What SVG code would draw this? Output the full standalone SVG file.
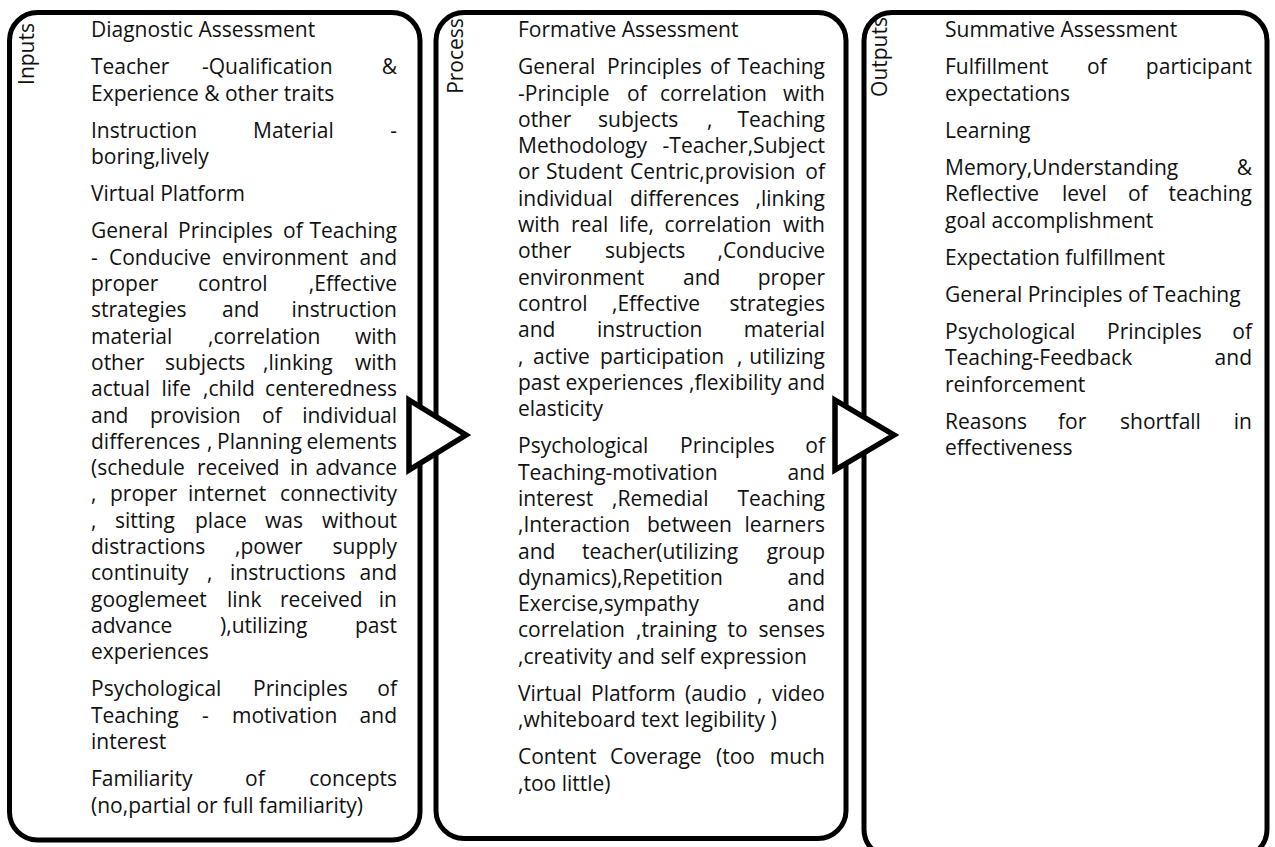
<svg xmlns="http://www.w3.org/2000/svg" width="1275" height="847" viewBox="0 0 1275 847">
<style>
.box{fill:#fff;stroke:#000;stroke-width:5}
.arr{fill:#fff;stroke:#000;stroke-width:5.5;stroke-linejoin:miter}
.t{font-family:"Open Sans","Liberation Sans",sans-serif;font-size:21px;fill:#111}
.e{text-anchor:end}
.lbl{font-family:"Open Sans","Liberation Sans",sans-serif;font-size:21px;fill:#111;text-anchor:middle}
</style>
<rect width="1275" height="847" fill="#fff"/>
<g id="inputs">
<rect class="box" x="9.5" y="12.5" width="410.5" height="827.5" rx="28"/>
<text class="lbl" transform="translate(34,54) rotate(-90)">Inputs</text>
<text class="t" x="91" y="37">Diagnostic Assessment</text>
<text class="t" y="74.2"><tspan x="91">Teacher</tspan><tspan x="202">-Qualification</tspan><tspan class="e" x="397">&amp;</tspan></text>
<text class="t" x="91" y="100.5">Experience &amp; other traits</text>
<text class="t" y="137.7"><tspan x="91">Instruction</tspan><tspan x="253">Material</tspan><tspan class="e" x="397">-</tspan></text>
<text class="t" x="91" y="164">boring,lively</text>
<text class="t" x="91" y="201.2">Virtual Platform</text>
<text class="t" y="238.4"><tspan x="91">General</tspan><tspan x="178">Principles</tspan><tspan x="283">of</tspan><tspan class="e" x="397">Teaching</tspan></text>
<text class="t" y="264.7"><tspan x="91">-</tspan><tspan x="109">Conducive</tspan><tspan x="222">environment</tspan><tspan class="e" x="397">and</tspan></text>
<text class="t" y="291"><tspan x="91">proper</tspan><tspan x="198">control</tspan><tspan class="e" x="397">,Effective</tspan></text>
<text class="t" y="317.3"><tspan x="91">strategies</tspan><tspan x="222">and</tspan><tspan class="e" x="397">instruction</tspan></text>
<text class="t" y="343.6"><tspan x="91">material</tspan><tspan x="208">,correlation</tspan><tspan class="e" x="397">with</tspan></text>
<text class="t" y="369.9"><tspan x="91">other</tspan><tspan x="165">subjects</tspan><tspan x="263">,linking</tspan><tspan class="e" x="397">with</tspan></text>
<text class="t" y="396.2"><tspan x="91">actual</tspan><tspan x="161.5">life</tspan><tspan x="203">,child</tspan><tspan class="e" x="397">centeredness</tspan></text>
<text class="t" y="422.5"><tspan x="91">and</tspan><tspan x="150">provision</tspan><tspan x="262">of</tspan><tspan class="e" x="397">individual</tspan></text>
<text class="t" y="448.8"><tspan x="91">differences</tspan><tspan x="207">,</tspan><tspan x="217">Planning</tspan><tspan class="e" x="397">elements</tspan></text>
<text class="t" y="475.1"><tspan x="91">(schedule</tspan><tspan x="197">received</tspan><tspan x="290">in</tspan><tspan class="e" x="397">advance</tspan></text>
<text class="t" y="501.4"><tspan x="91">,</tspan><tspan x="110">proper</tspan><tspan x="188">internet</tspan><tspan class="e" x="397">connectivity</tspan></text>
<text class="t" y="527.7"><tspan x="91">,</tspan><tspan x="115">sitting</tspan><tspan x="195">place</tspan><tspan x="265">was</tspan><tspan class="e" x="397">without</tspan></text>
<text class="t" y="554"><tspan x="91">distractions</tspan><tspan x="235">,power</tspan><tspan class="e" x="397">supply</tspan></text>
<text class="t" y="580.3"><tspan x="91">continuity</tspan><tspan x="207">,</tspan><tspan x="230">instructions</tspan><tspan class="e" x="397">and</tspan></text>
<text class="t" y="606.6"><tspan x="91">googlemeet</tspan><tspan x="227">link</tspan><tspan x="280">received</tspan><tspan class="e" x="397">in</tspan></text>
<text class="t" y="632.9"><tspan x="91">advance</tspan><tspan x="220">),utilizing</tspan><tspan class="e" x="397">past</tspan></text>
<text class="t" x="91" y="659.2">experiences</text>
<text class="t" y="696.4"><tspan x="91">Psychological</tspan><tspan x="253">Principles</tspan><tspan class="e" x="397">of</tspan></text>
<text class="t" y="722.7"><tspan x="91">Teaching</tspan><tspan x="202">-</tspan><tspan x="232">motivation</tspan><tspan class="e" x="397">and</tspan></text>
<text class="t" x="91" y="749">interest</text>
<text class="t" y="786.2"><tspan x="91">Familiarity</tspan><tspan x="245">of</tspan><tspan class="e" x="397">concepts</tspan></text>
<text class="t" x="91" y="812.5">(no,partial or full familiarity)</text>
</g>
<g id="process">
<rect class="box" x="436" y="12.5" width="410" height="826" rx="28"/>
<text class="lbl" transform="translate(463,56) rotate(-90)">Process</text>
<text class="t" x="518" y="37">Formative Assessment</text>
<text class="t" y="74.2"><tspan x="518">General</tspan><tspan x="607">Principles</tspan><tspan x="710">of</tspan><tspan class="e" x="825">Teaching</tspan></text>
<text class="t" y="100.5"><tspan x="518">-Principle</tspan><tspan x="627">of</tspan><tspan x="660">correlation</tspan><tspan class="e" x="825">with</tspan></text>
<text class="t" y="126.8"><tspan x="518">other</tspan><tspan x="598">subjects</tspan><tspan x="707">,</tspan><tspan class="e" x="825">Teaching</tspan></text>
<text class="t" y="153.1"><tspan x="518">Methodology</tspan><tspan class="e" x="825">-Teacher,Subject</tspan></text>
<text class="t" y="179.4"><tspan x="518">or</tspan><tspan x="546">Student</tspan><tspan x="630">Centric,provision</tspan><tspan class="e" x="825">of</tspan></text>
<text class="t" y="205.7"><tspan x="518">individual</tspan><tspan x="630">differences</tspan><tspan class="e" x="825">,linking</tspan></text>
<text class="t" y="232"><tspan x="518">with</tspan><tspan x="571">real</tspan><tspan x="619">life,</tspan><tspan x="664.5">correlation</tspan><tspan class="e" x="825">with</tspan></text>
<text class="t" y="258.3"><tspan x="518">other</tspan><tspan x="605">subjects</tspan><tspan class="e" x="825">,Conducive</tspan></text>
<text class="t" y="284.6"><tspan x="518">environment</tspan><tspan x="683">and</tspan><tspan class="e" x="825">proper</tspan></text>
<text class="t" y="310.9"><tspan x="518">control</tspan><tspan x="612">,Effective</tspan><tspan class="e" x="825">strategies</tspan></text>
<text class="t" y="337.2"><tspan x="518">and</tspan><tspan x="597">instruction</tspan><tspan class="e" x="825">material</tspan></text>
<text class="t" y="363.5"><tspan x="518">,</tspan><tspan x="533">active</tspan><tspan x="600">participation</tspan><tspan x="737">,</tspan><tspan class="e" x="825">utilizing</tspan></text>
<text class="t" y="389.8"><tspan x="518">past</tspan><tspan x="565.5">experiences</tspan><tspan x="689">,flexibility</tspan><tspan class="e" x="825">and</tspan></text>
<text class="t" x="518" y="416.1">elasticity</text>
<text class="t" y="453.3"><tspan x="518">Psychological</tspan><tspan x="680">Principles</tspan><tspan class="e" x="825">of</tspan></text>
<text class="t" y="479.6"><tspan x="518">Teaching-motivation</tspan><tspan class="e" x="825">and</tspan></text>
<text class="t" y="505.9"><tspan x="518">interest</tspan><tspan x="612">,Remedial</tspan><tspan class="e" x="825">Teaching</tspan></text>
<text class="t" y="532.2"><tspan x="518">,Interaction</tspan><tspan x="647">between</tspan><tspan class="e" x="825">learners</tspan></text>
<text class="t" y="558.5"><tspan x="518">and</tspan><tspan x="582">teacher(utilizing</tspan><tspan class="e" x="825">group</tspan></text>
<text class="t" y="584.8"><tspan x="518">dynamics),Repetition</tspan><tspan class="e" x="825">and</tspan></text>
<text class="t" y="611.1"><tspan x="518">Exercise,sympathy</tspan><tspan class="e" x="825">and</tspan></text>
<text class="t" y="637.4"><tspan x="518">correlation</tspan><tspan x="636">,training</tspan><tspan x="727.5">to</tspan><tspan class="e" x="825">senses</tspan></text>
<text class="t" x="518" y="663.7">,creativity and self expression</text>
<text class="t" y="700.9"><tspan x="518">Virtual</tspan><tspan x="591">Platform</tspan><tspan x="685">(audio</tspan><tspan x="757">,</tspan><tspan class="e" x="825">video</tspan></text>
<text class="t" x="518" y="727.2">,whiteboard text legibility )</text>
<text class="t" y="764.4"><tspan x="518">Content</tspan><tspan x="610">Coverage</tspan><tspan x="716">(too</tspan><tspan class="e" x="825">much</tspan></text>
<text class="t" x="518" y="790.7">,too little)</text>
</g>
<g id="outputs">
<rect class="box" x="864" y="12.5" width="403" height="845" rx="28"/>
<text class="lbl" transform="translate(887,57) rotate(-90)">Outputs</text>
<text class="t" x="945" y="37">Summative Assessment</text>
<text class="t" y="74.2"><tspan x="945">Fulfillment</tspan><tspan x="1087">of</tspan><tspan class="e" x="1252">participant</tspan></text>
<text class="t" x="945" y="100.5">expectations</text>
<text class="t" x="945" y="137.7">Learning</text>
<text class="t" y="174.9"><tspan x="945">Memory,Understanding</tspan><tspan class="e" x="1252">&amp;</tspan></text>
<text class="t" y="201.2"><tspan x="945">Reflective</tspan><tspan x="1062">level</tspan><tspan x="1128">of</tspan><tspan class="e" x="1252">teaching</tspan></text>
<text class="t" x="945" y="227.5">goal accomplishment</text>
<text class="t" x="945" y="264.7">Expectation fulfillment</text>
<text class="t" x="945" y="301.9">General Principles of Teaching</text>
<text class="t" y="339.1"><tspan x="945">Psychological</tspan><tspan x="1107">Principles</tspan><tspan class="e" x="1252">of</tspan></text>
<text class="t" y="365.4"><tspan x="945">Teaching-Feedback</tspan><tspan class="e" x="1252">and</tspan></text>
<text class="t" x="945" y="391.7">reinforcement</text>
<text class="t" y="428.9"><tspan x="945">Reasons</tspan><tspan x="1058">for</tspan><tspan x="1120">shortfall</tspan><tspan class="e" x="1252">in</tspan></text>
<text class="t" x="945" y="455.2">effectiveness</text>
</g>
<g id="connectors">
<polygon class="arr" points="409,400 466,435 409,470"/>
<polygon class="arr" points="835,400 894,435 835,470"/>
</g>
</svg>
